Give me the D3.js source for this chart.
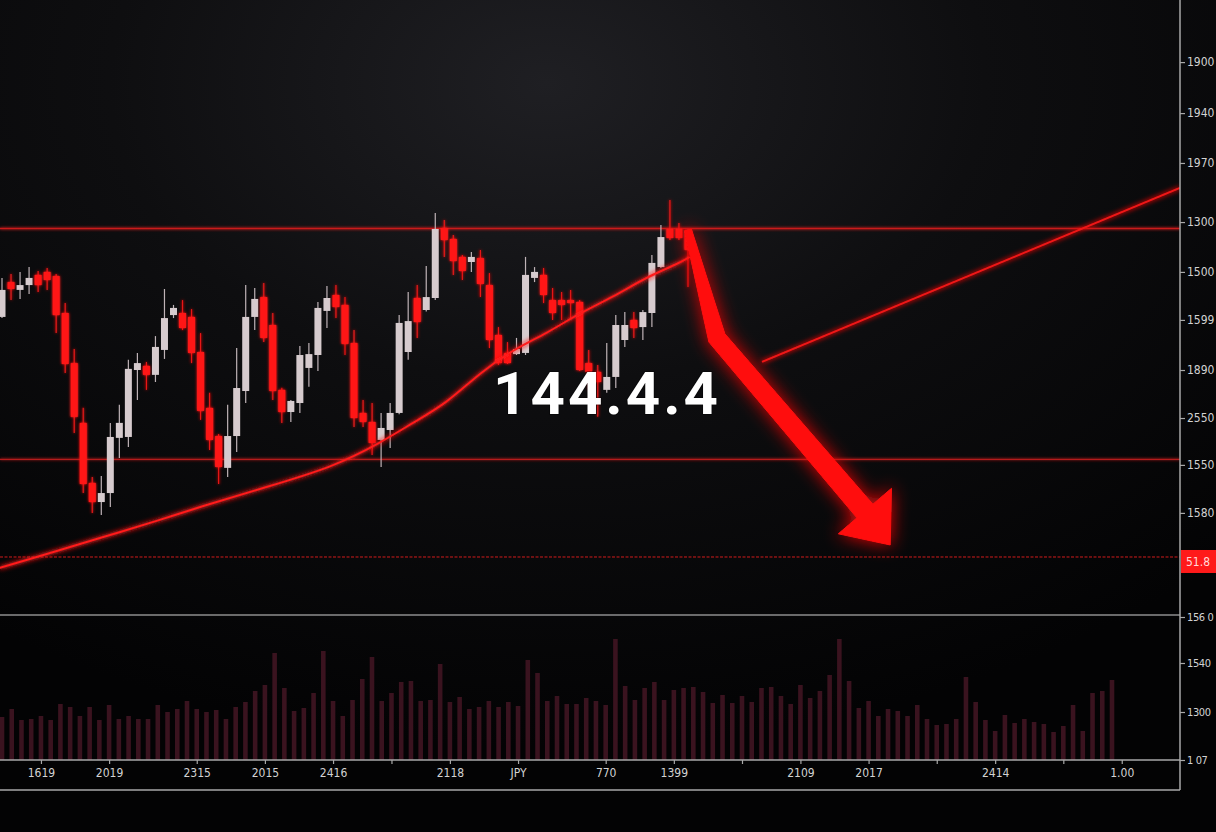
<!DOCTYPE html>
<html><head><meta charset="utf-8">
<script src="https://cdn.jsdelivr.net/npm/d3@7"></script>
<style>html,body{margin:0;padding:0;background:#050506;overflow:hidden}</style>
</head><body>
<svg id="c" width="1216" height="832"></svg>
<script>
// ---------- DATA ----------
const opens = [146.17,147.68,147.34,147.55,147.99,148.12,147.94,146.34,144.17,141.58,
138.98,138.15,138.54,140.93,140.97,143.87,144.05,143.66,144.74,146.25,
146.34,146.17,144.65,142.23,141.01,139.63,141.01,142.96,146.17,147.03,
145.82,143.01,142.05,142.44,143.96,144.52,146.43,147.12,146.69,145.04,
142.01,141.62,140.84,141.27,142.01,144.65,146.99,146.47,146.99,150.02,
149.55,148.77,148.55,148.72,147.55,145.39,144.61,144.56,144.61,147.86,
147.99,146.90,146.90,146.90,146.82,144.17,143.79,143.01,143.57,145.17,
146.04,145.73,146.34,148.33,149.98,149.98,149.94];
const closes = [147.34,147.38,147.55,147.86,147.55,147.77,146.25,144.13,141.84,138.93,
138.15,138.54,140.97,141.58,143.92,144.17,143.66,144.87,146.12,146.56,
145.69,144.61,142.10,140.84,139.67,141.01,143.09,146.17,146.95,145.26,
142.96,142.05,142.53,144.52,144.56,146.56,146.99,146.60,145.00,141.79,
141.62,140.71,141.36,142.01,145.91,145.99,145.95,147.03,149.98,149.50,
148.59,148.16,148.77,147.60,145.17,144.17,144.17,144.78,147.99,148.12,
147.12,146.34,146.69,146.77,143.87,143.79,143.35,143.57,145.82,145.82,
145.69,146.38,148.51,149.63,149.59,149.59,149.07];
const highs = [147.86,148.03,148.12,148.33,148.16,148.29,148.03,146.77,144.78,142.23,
139.24,139.28,141.58,142.36,144.31,144.61,144.22,145.34,147.38,146.69,
146.90,146.51,145.47,142.88,141.10,142.36,144.82,147.55,147.42,147.64,
146.34,143.10,142.57,144.91,145.04,146.82,147.51,147.55,147.03,145.60,
142.57,142.44,142.01,142.44,146.25,147.25,147.55,148.38,150.67,150.37,
149.72,148.85,148.98,149.07,148.07,145.73,145.08,145.26,148.77,148.33,
148.29,147.42,147.25,147.34,146.90,144.74,144.09,145.04,146.25,146.38,
146.38,146.47,148.85,150.15,151.24,150.24,149.94];
const lows = [146.12,146.90,146.95,147.16,147.25,147.34,145.47,143.74,141.14,138.54,
137.68,137.59,137.94,140.06,140.54,142.57,143.01,143.35,144.35,146.12,
145.60,144.17,141.71,140.41,138.93,139.24,140.32,142.44,145.60,145.08,
142.57,141.58,141.62,142.01,143.14,143.83,145.69,146.12,144.52,141.40,
141.40,140.19,139.67,140.49,141.95,144.31,145.26,146.40,146.90,148.77,
147.99,147.77,148.12,147.03,144.82,144.09,144.13,144.52,144.52,147.68,
146.77,146.04,146.04,146.04,143.83,143.01,141.84,142.88,143.09,144.87,
145.26,145.17,145.73,148.29,149.50,149.50,147.47];

// moving average knots: [candle index, price]
const maKnots = [[-0.3,135.29],[5.3,135.94],[10.85,136.59],[17.5,137.37],[21.9,137.94],
[29.3,138.80],[36.7,139.67],[41.9,140.71],[45.5,141.58],[49.3,142.44],[52.9,143.74],
[56.6,144.74],[60.4,145.47],[64.0,146.34],[67.7,147.03],[71.4,147.90],[75.1,148.51],[76.2,148.77]];

const volumes = [43,51,40,41,44,40,56,53,44,53,
40,55,41,44,41,41,55,48,51,59,
51,48,50,41,53,58,69,75,107,72,
49,52,67,109,59,44,60,81,103,59,
67,78,79,59,60,96,58,63,51,53,
59,53,58,54,100,87,59,64,56,56,
62,59,55,121,74,60,72,78,60,70,
72,73,68,57,65,57,64,58,72,73,
64,56,75,62,69,85,121,79,52,59,
44,51,49,44,55,41,35,36,41,83,
58,40,29,45,37,41,38,36,28,34,
55,29,67,69,80];

const resistanceLevel = 150.0;
const supportLevel = 140.0;
const currentLevel = 135.77;
const currentLabel = "51.8";

const trendLine = [[84.2,144.22],[130.5,151.76]];
// arrow centerline: start, bend, head base, tip  [candle index, price]
const arrowPath = [[76,149.94],[79.2,145.26],[95.6,137.76],[98.4,136.29]];

const priceTicks = [157.21,155.00,152.84,150.28,148.12,146.04,143.87,141.79,139.76,137.68];
const priceTickLabels = ["1900","1940","1970","1300","1500","1599","1890","2550","1550","1580"];
const volTicks = [143,97,48,0];
const volTickLabels = ["156 0","1540","1300","1 07"];

const xTickBars = [4,11,20,27,34,40,46,53,62,69,76,82,89,96,102,109,115];
const xTickLabels = ["1619","2019","2315","2015","2416","","2118","JPY","770","1399","","2109","2017","","2414","","1.00"];

const bigLabel = "144.4.4";

// ---------- CHART ----------
const W = 1216, H = 832;
const axisX = 1180, panelBottom = 614, volBottom = 760, frameBottom = 790;
const svg = d3.select('#c');
const defs = svg.append('defs');

const rg = defs.append('radialGradient').attr('id','bg').attr('cx','0.45').attr('cy','0.1').attr('r','0.8');
rg.append('stop').attr('offset','0').attr('stop-color','#1f1f23');
rg.append('stop').attr('offset','0.45').attr('stop-color','#0e0e10');
rg.append('stop').attr('offset','1').attr('stop-color','#030304');

function glow(id, sd, op){
  const f = defs.append('filter').attr('id',id).attr('filterUnits','userSpaceOnUse')
    .attr('x',-50).attr('y',-50).attr('width',W+100).attr('height',H+100);
  f.append('feGaussianBlur').attr('in','SourceGraphic').attr('stdDeviation',sd).attr('result','b0');
  f.append('feComponentTransfer').attr('in','b0').attr('result','b')
    .append('feFuncA').attr('type','linear').attr('slope',op);
  const m = f.append('feMerge');
  m.append('feMergeNode').attr('in','b');
  m.append('feMergeNode').attr('in','SourceGraphic');
}
glow('glow',2.5,1.6); glow('glowBig',9,0.9); glow('glowSoft',1.5,1.2);

const clip = defs.append('clipPath').attr('id','plot');
clip.append('rect').attr('x',0).attr('y',0).attr('width',axisX).attr('height',panelBottom);

svg.append('rect').attr('width',W).attr('height',H).attr('fill','url(#bg)');

const xC = d3.scaleLinear().domain([0,76]).range([2,688]);
const xV = d3.scaleLinear().domain([0,114]).range([2,1112]);
const yP = d3.scaleLinear().domain([133.3,159.9]).range([panelBottom,0]);
const yV = d3.scaleLinear().domain([0,146]).range([volBottom,panelBottom]);

// volume bars
svg.append('g').selectAll('rect').data(volumes).join('rect')
  .attr('x',(d,i)=>xV(i)-2.3).attr('width',4.6)
  .attr('y',d=>yV(d)).attr('height',d=>yV(0)-yV(d))
  .attr('fill','#3a131f');

const plot = svg.append('g').attr('clip-path','url(#plot)');

// horizontal levels
plot.append('line').attr('x1',0).attr('x2',axisX).attr('y1',yP(resistanceLevel)).attr('y2',yP(resistanceLevel))
  .attr('stroke','#c81c1c').attr('stroke-width',1.5).attr('filter','url(#glowSoft)');
plot.append('line').attr('x1',0).attr('x2',axisX).attr('y1',yP(supportLevel)).attr('y2',yP(supportLevel))
  .attr('stroke','#b41a1a').attr('stroke-width',1.3).attr('filter','url(#glowSoft)');
plot.append('line').attr('x1',0).attr('x2',axisX).attr('y1',yP(currentLevel)).attr('y2',yP(currentLevel))
  .attr('stroke','#d01c1c').attr('stroke-width',1).attr('stroke-dasharray','3,1.5');

// candles
const n = opens.length;
const cg = plot.append('g');
const idx = d3.range(n);
const up = i => closes[i] >= opens[i];
const col = i => up(i) ? '#d6cbce' : '#ff1616';
cg.selectAll('line.w').data(idx).join('line').attr('class','w')
  .attr('x1',i=>xC(i)).attr('x2',i=>xC(i))
  .attr('y1',i=>yP(highs[i])).attr('y2',i=>yP(lows[i]))
  .attr('stroke',i=>up(i)?'#bfb3b7':'#e81515').attr('stroke-width',1.2)
  .attr('filter',i=>up(i)?null:'url(#glowSoft)');
cg.selectAll('rect.b').data(idx).join('rect').attr('class','b')
  .attr('x',i=>xC(i)-3.5).attr('width',7)
  .attr('y',i=>yP(Math.max(opens[i],closes[i])))
  .attr('height',i=>Math.max(1.5, Math.abs(yP(opens[i])-yP(closes[i]))))
  .attr('fill',col)
  .attr('filter',i=>up(i)?null:'url(#glowSoft)');

// moving average
const maLine = d3.line().x(d=>xC(d[0])).y(d=>yP(d[1])).curve(d3.curveBasis);
plot.append('path').datum(maKnots).attr('d',maLine).attr('fill','none')
  .attr('stroke','#ff1a1a').attr('stroke-width',2).attr('filter','url(#glow)');

// trend line
plot.append('line')
  .attr('x1',xC(trendLine[0][0])).attr('y1',yP(trendLine[0][1]))
  .attr('x2',xC(trendLine[1][0])).attr('y2',yP(trendLine[1][1]))
  .attr('stroke','#f01818').attr('stroke-width',2).attr('filter','url(#glow)');

// arrow
(function(){
  const P = arrowPath.map(d=>[xC(d[0]),yP(d[1])]);
  const [A,B,C,T] = P;
  const norm = (p,q)=>{const dx=q[0]-p[0],dy=q[1]-p[1],l=Math.hypot(dx,dy);return [-dy/l,dx/l];};
  const n1 = norm(A,B), n2 = norm(B,C);
  let nb = [n1[0]+n2[0], n1[1]+n2[1]]; const lb=Math.hypot(nb[0],nb[1]); nb=[nb[0]/lb,nb[1]/lb];
  const w0=3.5, wb=9, ws=10.5, hw=35;
  const off=(p,nn,w)=>[p[0]+nn[0]*w,p[1]+nn[1]*w];
  const pts=[off(A,n1,w0),off(B,nb,wb),off(C,n2,ws),off(C,n2,hw),T,off(C,n2,-hw),off(C,n2,-ws),off(B,nb,-wb),off(A,n1,-w0)];
  svg.append('path').attr('d','M'+pts.map(p=>p.join(',')).join('L')+'Z')
    .attr('fill','#ff0f0f').attr('stroke','#ff0f0f').attr('stroke-width',1).attr('stroke-linejoin','round')
    .attr('filter','url(#glowBig)');
})();

// big label
svg.append('text').attr('x',607).attr('y',414).attr('text-anchor','middle')
  .attr('font-family','Roboto, "DejaVu Sans", sans-serif').attr('font-weight',700)
  .attr('font-size',60).attr('letter-spacing',3).attr('fill','#ffffff')
  .style('paint-order','stroke').attr('stroke','rgba(0,0,0,0.35)').attr('stroke-width',2)
  .text(bigLabel);

// frame lines
const axisCol = '#a9a9a9';
svg.append('line').attr('x1',0).attr('x2',axisX).attr('y1',panelBottom+1).attr('y2',panelBottom+1).attr('stroke','#8e8e8e').attr('stroke-width',1.5);
svg.append('line').attr('x1',0).attr('x2',axisX).attr('y1',frameBottom).attr('y2',frameBottom).attr('stroke',axisCol).attr('stroke-width',1.5);
svg.append('line').attr('x1',axisX).attr('x2',axisX).attr('y1',0).attr('y2',frameBottom).attr('stroke',axisCol).attr('stroke-width',1.5);

// axes
const fontFam = '"DejaVu Sans Condensed","DejaVu Sans",sans-serif';
function styleAxis(g){
  g.select('.domain').remove();
  g.selectAll('.tick line').attr('stroke',axisCol).attr('stroke-width',1.2);
  g.selectAll('.tick text').attr('fill','#d2d2d2').attr('font-family',fontFam).attr('font-size',12);
}
svg.append('g').attr('transform',`translate(${axisX},0)`)
  .call(d3.axisRight(yP).tickValues(priceTicks).tickFormat((d,i)=>priceTickLabels[i]).tickSize(5).tickPadding(2))
  .call(styleAxis);
svg.append('g').attr('transform',`translate(${axisX},0)`)
  .call(d3.axisRight(yV).tickValues(volTicks).tickFormat((d,i)=>volTickLabels[i]).tickSize(5).tickPadding(2))
  .call(styleAxis)
  .call(g=>g.selectAll('.tick text').attr('font-size',11).attr('letter-spacing',-0.4));
const xg = svg.append('g').attr('transform',`translate(0,${volBottom})`)
  .call(d3.axisBottom(xV).tickValues(xTickBars).tickFormat((d,i)=>xTickLabels[i]).tickSize(4).tickPadding(4))
  .call(styleAxis);
svg.append('line').attr('x1',0).attr('x2',axisX).attr('y1',volBottom).attr('y2',volBottom).attr('stroke',axisCol).attr('stroke-width',1.5);

// current price tag
const ty = yP(currentLevel);
svg.append('rect').attr('x',axisX+1).attr('y',ty-7).attr('width',W-axisX).attr('height',23).attr('fill','#ff1a1a');
svg.append('text').attr('x',axisX+6).attr('y',ty+9).attr('fill','#ffd9d9')
  .attr('font-family',fontFam).attr('font-size',12).text(currentLabel);
</script>
</body></html>
